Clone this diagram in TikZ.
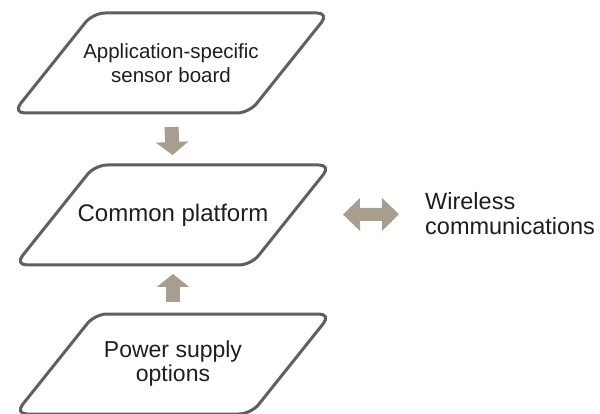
\documentclass[tikz,border=0pt]{standalone}
\usepackage{fontspec}
\setmainfont{Liberation Sans}
\usetikzlibrary{positioning, arrows.meta}
\definecolor{mygray}{HTML}{5F5F5F}
\definecolor{mytaupe}{HTML}{A89E90}
\definecolor{mytext}{HTML}{1E1E1E}
\newcommand{\drawplate}[1]{\draw[plateline] ([xshift=40pt]#1.north west) -- ([xshift=40pt]#1.north east) -- ([xshift=-40pt]#1.south east) -- ([xshift=-40pt]#1.south west) -- cycle;}
\tikzset{
	platebox/.style={
			shape=rectangle,
			minimum width=236pt,
			minimum height=100pt,
			inner sep=0pt,
			outer sep=0pt,
			align=center,
			text=mytext,
			font=\fontsize{23}{24}\selectfont
		},
	plateline/.style={
			draw=mygray,
			line width=3pt,
			rounded corners=12pt
		},
	blockarrow/.style={
			draw=mytaupe,
			line width=14pt,
			-{Triangle[width=32pt,length=13pt]}
		},
	twowayarrow/.style={
			draw=mytaupe,
			line width=13pt,
			{Triangle[width=32pt,length=17pt]}-{Triangle[width=32pt,length=17pt]}
		},
	sidetext/.style={
			align=left,
			text=mytext,
			inner sep=0pt,
			font=\fontsize{23.5}{25}\selectfont
		}
}

\begin{document}
\begin{tikzpicture}[x=1pt, y=-1pt]
  \useasboundingbox (0,0) rectangle (600,414);

  \node[platebox] (sensor) at (171,63) {\fontsize{20.5}{24}\selectfont Application-specific\\\fontsize{20.5}{24}\selectfont sensor board};
  \node[platebox] (platform) at (173,215) {\fontsize{24}{24}\selectfont Common platform};
  \node[platebox] (power) at (173,364) {Power supply\\options};

  \drawplate{sensor}
  \drawplate{platform}
  \drawplate{power}

  \node[sidetext, anchor=west] (wireless) at (425,214) {Wireless\\communications};

  % block arrows between the boards
  \draw[blockarrow, shorten <=14pt, shorten >=10pt] (sensor.south) -- (platform.north);
  \draw[blockarrow, shorten <=12pt, shorten >=9pt] (power.north) -- (platform.south);
  \draw[twowayarrow, shorten <=52pt, shorten >=26pt] (platform.east) -- (wireless.west);

\end{tikzpicture}
\end{document}
